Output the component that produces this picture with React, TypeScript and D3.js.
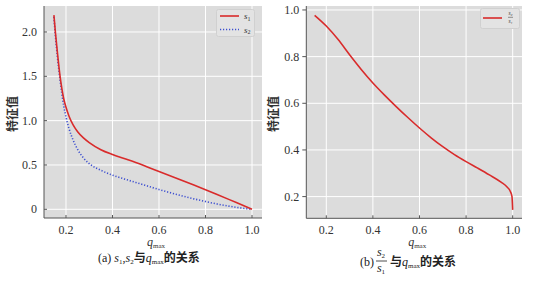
import React from "react";
import * as d3 from "d3";

const qLeft = [0.148, 0.155, 0.163, 0.174, 0.19, 0.2, 0.213, 0.23, 0.25, 0.275, 0.3, 0.35, 0.4, 0.45, 0.5, 0.55, 0.6, 0.65, 0.7, 0.75, 0.8, 0.85, 0.9, 0.95, 1.0];
const s1Values = [2.19, 1.98, 1.77, 1.51, 1.25, 1.15, 1.05, 0.955, 0.875, 0.805, 0.752, 0.672, 0.618, 0.573, 0.528, 0.478, 0.427, 0.377, 0.326, 0.274, 0.221, 0.167, 0.112, 0.056, 0.0];
const s2Values = [2.17, 1.94, 1.72, 1.47, 1.17, 1.04, 0.91, 0.785, 0.675, 0.58, 0.515, 0.44, 0.385, 0.343, 0.303, 0.263, 0.223, 0.186, 0.151, 0.118, 0.088, 0.06, 0.036, 0.016, 0.0];

const qRight = [0.15, 0.2, 0.25, 0.3, 0.35, 0.4, 0.45, 0.5, 0.55, 0.6, 0.65, 0.7, 0.75, 0.8, 0.85, 0.9, 0.95, 0.975, 0.99, 0.997, 1.0];
const ratioValues = [0.977, 0.931, 0.874, 0.808, 0.745, 0.687, 0.635, 0.586, 0.539, 0.494, 0.452, 0.414, 0.38, 0.35, 0.322, 0.293, 0.262, 0.242, 0.222, 0.2, 0.143];

const xTicks = [0.2, 0.4, 0.6, 0.8, 1.0];
const xTickLabels = ["0.2", "0.4", "0.6", "0.8", "1.0"];
const yTicksLeft = [0, 0.5, 1.0, 1.5, 2.0];
const yTickLabelsLeft = ["0", "0.5", "1.0", "1.5", "2.0"];
const yTicksRight = [0.2, 0.4, 0.6, 0.8, 1.0];
const yTickLabelsRight = ["0.2", "0.4", "0.6", "0.8", "1.0"];

const yLabel = "特征值";

const BG = "#dcdcdc";
const RED = "#d92b2b";
const BLUE = "#3d4fd0";
const AXIS = "#555";
const TXT = "#333";
const SERIF = "Liberation Serif, DejaVu Serif, Times New Roman, serif";
const CJK = "Noto Sans CJK SC, sans-serif";

type PanelProps = {
  left: number; right: number; top: number; bottom: number;
  xDomain: [number, number]; yDomain: [number, number];
  yTicks: number[]; yLabels: string[]; yTickOutward: boolean;
  children: (x: d3.ScaleLinear<number, number>, y: d3.ScaleLinear<number, number>) => React.ReactNode;
};

function Panel(p: PanelProps) {
  const x = d3.scaleLinear().domain(p.xDomain).range([p.left, p.right]);
  const y = d3.scaleLinear().domain(p.yDomain).range([p.bottom, p.top]);
  return (
    <g>
      <rect x={p.left} y={p.top} width={p.right - p.left} height={p.bottom - p.top} fill={BG} />
      {xTicks.map((t) => (
        <line key={"gx" + t} x1={x(t)} x2={x(t)} y1={p.top} y2={p.bottom} stroke="#fff" strokeWidth={1} />
      ))}
      {p.yTicks.map((t) => (
        <line key={"gy" + t} x1={p.left} x2={p.right} y1={y(t)} y2={y(t)} stroke="#fff" strokeWidth={1} />
      ))}
      {p.children(x, y)}
      <line x1={p.left} x2={p.left} y1={p.top} y2={p.bottom} stroke={AXIS} strokeWidth={1} />
      <line x1={p.left} x2={p.right} y1={p.bottom} y2={p.bottom} stroke={AXIS} strokeWidth={1} />
      {xTicks.map((t, i) => (
        <g key={"tx" + t}>
          <line x1={x(t)} x2={x(t)} y1={p.bottom} y2={p.bottom - 3} stroke={AXIS} strokeWidth={1} />
          <text x={x(t)} y={p.bottom + 16} textAnchor="middle" style={{ fontFamily: SERIF }} fontSize={12} fill={TXT}>
            {xTickLabels[i]}
          </text>
        </g>
      ))}
      {p.yTicks.map((t, i) => (
        <g key={"ty" + t}>
          <line x1={p.left} x2={p.yTickOutward ? p.left - 4 : p.left + 3} y1={y(t)} y2={y(t)} stroke={AXIS} strokeWidth={1} />
          <text x={p.left - (p.yTickOutward ? 7 : 7)} y={y(t) + 4} textAnchor="end" style={{ fontFamily: SERIF }} fontSize={12} fill={TXT}>
            {p.yLabels[i]}
          </text>
        </g>
      ))}
      <text x={(p.left + p.right) / 2 - 6} y={p.bottom + 28} style={{ fontFamily: SERIF }} fill={TXT}>
        <tspan fontSize={12} fontStyle="italic">q</tspan>
        <tspan fontSize={7} dy={2}>max</tspan>
      </text>
    </g>
  );
}

export default function App() {
  const mkLine = (xs: number[], ys: number[], x: any, y: any) =>
    d3.line<number>()
      .x((_, i) => x(xs[i]))
      .y((d) => y(d))
      .curve(d3.curveMonotoneX)(ys) || "";

  return (
    <svg width={549} height={281} style={{ position: "absolute", left: 0, top: 0, background: "#fff" }}>
      <Panel left={44} right={262} top={6} bottom={218} xDomain={[0.1054, 1.043]} yDomain={[-0.098, 2.293]}
        yTicks={yTicksLeft} yLabels={yTickLabelsLeft} yTickOutward={false}>
        {(x, y) => (
          <g>
            <path d={mkLine(qLeft, s2Values, x, y)} fill="none" stroke={BLUE} strokeWidth={1.6} strokeDasharray="1.2 1.8" />
            <path d={mkLine(qLeft, s1Values, x, y)} fill="none" stroke={RED} strokeWidth={1.6} />
            <rect x={216.5} y={9.5} width={38} height={27} fill="#e3e3e3" stroke="#d0d0d0" rx={2} />
            <line x1={220} x2={239} y1={16} y2={16} stroke={RED} strokeWidth={1.6} />
            <line x1={220} x2={239} y1={29.5} y2={29.5} stroke={BLUE} strokeWidth={1.6} strokeDasharray="1.2 1.8" />
            <text x={244} y={19} style={{ fontFamily: SERIF }} fontSize={9} fill={TXT}>
              <tspan fontStyle="italic">s</tspan><tspan fontSize={6} dy={1.5}>1</tspan>
            </text>
            <text x={244} y={32.5} style={{ fontFamily: SERIF }} fontSize={9} fill={TXT}>
              <tspan fontStyle="italic">s</tspan><tspan fontSize={6} dy={1.5}>2</tspan>
            </text>
          </g>
        )}
      </Panel>
      <Panel left={306.3} right={522} top={6} bottom={218.3} xDomain={[0.1142, 1.040]} yDomain={[0.107, 1.017]}
        yTicks={yTicksRight} yLabels={yTickLabelsRight} yTickOutward={true}>
        {(x, y) => (
          <g>
            <path d={mkLine(qRight, ratioValues, x, y)} fill="none" stroke={RED} strokeWidth={1.6} />
            <rect x={480.5} y={8.5} width={39} height={20} fill="#e3e3e3" stroke="#d0d0d0" rx={2} />
            <line x1={483} x2={502} y1={18} y2={18} stroke={RED} strokeWidth={1.6} />
            <text x={510.5} y={15} textAnchor="middle" style={{ fontFamily: SERIF }} fontSize={5.5} fontStyle="italic" fill={TXT}>s₂</text>
            <line x1={508} x2={513} y1={17.3} y2={17.3} stroke={TXT} strokeWidth={0.5} />
            <text x={510.5} y={23} textAnchor="middle" style={{ fontFamily: SERIF }} fontSize={5.5} fontStyle="italic" fill={TXT}>s₁</text>
          </g>
        )}
      </Panel>

      <text transform="translate(17,114) rotate(-90)" textAnchor="middle" style={{ fontFamily: CJK }} fontWeight="bold" fontSize={12} fill={TXT}>
        {yLabel}
      </text>
      <text transform="translate(278,114) rotate(-90)" textAnchor="middle" style={{ fontFamily: CJK }} fontWeight="bold" fontSize={12} fill={TXT}>
        {yLabel}
      </text>

      <text x={98} y={262} style={{ fontFamily: SERIF }} fontSize={12} fill="#222">
        <tspan>(a) </tspan>
        <tspan fontStyle="italic">s</tspan><tspan fontSize={7} dy={2}>1</tspan>
        <tspan dy={-2}>,</tspan>
        <tspan fontStyle="italic">s</tspan><tspan fontSize={7} dy={2}>2</tspan>
        <tspan dy={-2} style={{ fontFamily: CJK }} fontWeight="bold">与</tspan>
        <tspan fontStyle="italic">q</tspan><tspan fontSize={7} dy={2}>max</tspan>
        <tspan dy={-2} style={{ fontFamily: CJK }} fontWeight="bold">的关系</tspan>
      </text>

      <text x={360} y={266} style={{ fontFamily: SERIF }} fontSize={12} fill="#222">(b)</text>
      <text x={381} y={256} textAnchor="middle" style={{ fontFamily: SERIF }} fontSize={12} fill="#222">
        <tspan fontStyle="italic">s</tspan><tspan fontSize={7} dy={2}>2</tspan>
      </text>
      <line x1={376} x2={387} y1={261} y2={261} stroke="#222" strokeWidth={0.8} />
      <text x={381} y={272} textAnchor="middle" style={{ fontFamily: SERIF }} fontSize={12} fill="#222">
        <tspan fontStyle="italic">s</tspan><tspan fontSize={7} dy={2}>1</tspan>
      </text>
      <text x={390} y={266} style={{ fontFamily: SERIF }} fontSize={12} fill="#222">
        <tspan style={{ fontFamily: CJK }} fontWeight="bold">与</tspan>
        <tspan fontStyle="italic">q</tspan><tspan fontSize={7} dy={2}>max</tspan>
        <tspan dy={-2} style={{ fontFamily: CJK }} fontWeight="bold">的关系</tspan>
      </text>
    </svg>
  );
}
